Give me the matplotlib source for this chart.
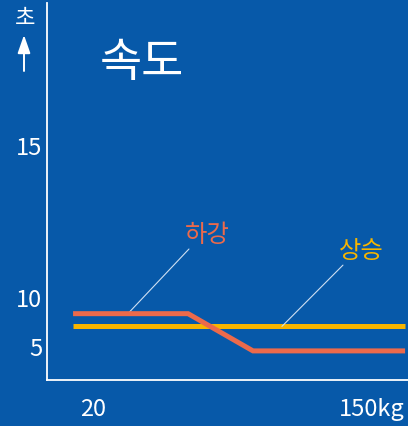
import numpy as np
import matplotlib
matplotlib.use("Agg")
import matplotlib.pyplot as plt

plt.rcParams['font.family'] = ['Noto Sans CJK KR', 'DejaVu Sans']

# ---- data ----
x_down = [10.7, 64.4, 94.7, 165.7]   # 하강 (kg)
y_down = [8.3, 8.3, 4.5, 4.5]        # seconds
x_up = [10.7, 165.7]                 # 상승 (kg)
y_up = [7.0, 7.0]
x_ticks = [20, 150]
x_ticklabels = ["20", "150kg"]
y_ticks = [5, 10, 15]
y_ticklabels = ["5", "10", "15"]
title = "속도"
y_unit = "초"
label_down = "하강"
label_up = "상승"

BG = "#0759a9"
ORANGE = "#ec6a4b"
YELLOW = "#f7b500"
LEADER = "#cfe0f3"

W, H = 408, 427
fig = plt.figure(figsize=(W / 100, H / 100), dpi=100, facecolor=BG)
ax = fig.add_axes([46.5 / W, (H - 381) / H, (W - 46.5) / W, (381 - 4) / H])
ax.set_facecolor(BG)

K = 3.1
def fwd(y):
    y = np.asarray(y, dtype=float)
    return np.where(y <= 10, y, 10 + K * (y - 10))
def inv(t):
    t = np.asarray(t, dtype=float)
    return np.where(t <= 10, t, 10 + (t - 10) / K)
ax.set_yscale('function', functions=(fwd, inv))

ax.set_xlim(-1.7, 167.06)
ax.set_ylim(1.53, 19.68)

ax.plot(x_up, y_up, color=YELLOW, lw=3.6, solid_capstyle='butt', zorder=3)
ax.plot(x_down, y_down, color=ORANGE, lw=3.6, solid_capstyle='butt',
        solid_joinstyle='miter', zorder=4)

# leaders and labels
ax.annotate('', xy=(36.3, 8.3), xytext=(64.8, 11.58),
            arrowprops=dict(arrowstyle='-', color=LEADER, lw=0.8,
                            shrinkA=0, shrinkB=0))
ax.text(73.2, 12.07, label_down, color=ORANGE, fontsize=17.5,
        ha='center', va='center')
ax.annotate('', xy=(108.2, 7.0), xytext=(136.7, 11.05),
            arrowprops=dict(arrowstyle='-', color=LEADER, lw=0.8,
                            shrinkA=0, shrinkB=0))
ax.text(145.1, 11.55, label_up, color=YELLOW, fontsize=17.5,
        ha='center', va='center')

ax.set_xticks(x_ticks)
ax.set_xticklabels(x_ticklabels)
ax.set_yticks(y_ticks)
ax.set_yticklabels(y_ticklabels)
ax.yaxis.set_minor_locator(matplotlib.ticker.NullLocator())
ax.tick_params(axis='both', length=0, colors='white', labelsize=17)
ax.tick_params(axis='y', pad=3)
ax.tick_params(axis='x', pad=12)

for s in ['top', 'right']:
    ax.spines[s].set_visible(False)
for s in ['left', 'bottom']:
    ax.spines[s].set_color('white')
    ax.spines[s].set_linewidth(1.3)

fig.text(142 / W, 1 - 63 / H, title, color='white', fontsize=33,
         fontweight='medium', ha='center', va='center')
fig.text(25 / W, 1 - 19 / H, y_unit, color='white', fontsize=16,
         ha='center', va='center')
fig.patches.append(matplotlib.patches.FancyArrowPatch(
    (24 / W, 1 - 72 / H), (24 / W, 1 - 36 / H), transform=fig.transFigure,
    arrowstyle='-|>,head_length=1.0,head_width=0.35', mutation_scale=11,
    color='white', lw=1.4, shrinkA=0, shrinkB=0))

fig.savefig("out.png", dpi=100, facecolor=BG)
